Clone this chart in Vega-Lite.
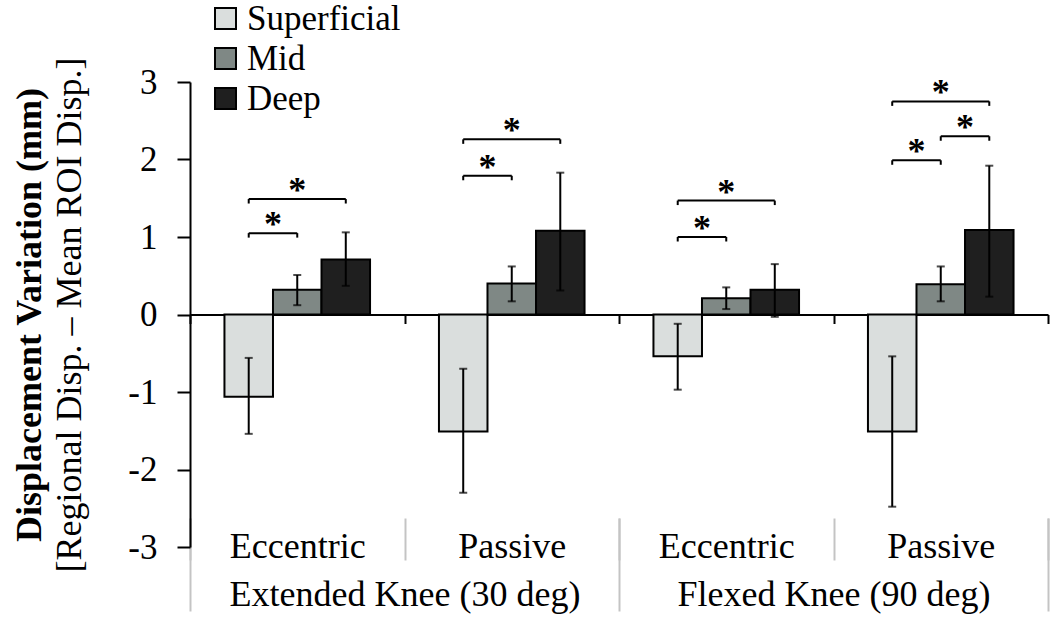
{
  "$schema": "https://vega.github.io/schema/vega-lite/v6.json",
  "width": 858,
  "height": 465,
  "autosize": "none",
  "padding": {"left": 190, "top": 82, "right": 2, "bottom": 74},
  "background": "white",
  "config": {
    "view": {"stroke": null},
    "font": "Liberation Serif",
    "axis": {"labelFont": "Liberation Serif", "titleFont": "Liberation Serif", "labelColor": "black", "titleColor": "black", "grid": false, "labelFontSize": 36, "titleFontSize": 36, "labelLimit": 600, "labelOverlap": false},
    "legend": {"labelFont": "Liberation Serif", "labelColor": "black"}
  },
  "datasets": {
    "bars": [
      {"knee": "Extended Knee (30 deg)", "cond": "Extended Knee (30 deg)|Eccentric", "layer": "Superficial", "value": -1.06, "lo": -1.54, "hi": -0.56},
      {"knee": "Extended Knee (30 deg)", "cond": "Extended Knee (30 deg)|Eccentric", "layer": "Mid", "value": 0.32, "lo": 0.12, "hi": 0.51},
      {"knee": "Extended Knee (30 deg)", "cond": "Extended Knee (30 deg)|Eccentric", "layer": "Deep", "value": 0.71, "lo": 0.37, "hi": 1.06},
      {"knee": "Extended Knee (30 deg)", "cond": "Extended Knee (30 deg)|Passive", "layer": "Superficial", "value": -1.51, "lo": -2.3, "hi": -0.7},
      {"knee": "Extended Knee (30 deg)", "cond": "Extended Knee (30 deg)|Passive", "layer": "Mid", "value": 0.4, "lo": 0.17, "hi": 0.62},
      {"knee": "Extended Knee (30 deg)", "cond": "Extended Knee (30 deg)|Passive", "layer": "Deep", "value": 1.08, "lo": 0.31, "hi": 1.83},
      {"knee": "Flexed Knee (90 deg)", "cond": "Flexed Knee (90 deg)|Eccentric", "layer": "Superficial", "value": -0.54, "lo": -0.97, "hi": -0.12},
      {"knee": "Flexed Knee (90 deg)", "cond": "Flexed Knee (90 deg)|Eccentric", "layer": "Mid", "value": 0.21, "lo": 0.07, "hi": 0.35},
      {"knee": "Flexed Knee (90 deg)", "cond": "Flexed Knee (90 deg)|Eccentric", "layer": "Deep", "value": 0.32, "lo": -0.03, "hi": 0.65},
      {"knee": "Flexed Knee (90 deg)", "cond": "Flexed Knee (90 deg)|Passive", "layer": "Superficial", "value": -1.51, "lo": -2.48, "hi": -0.54},
      {"knee": "Flexed Knee (90 deg)", "cond": "Flexed Knee (90 deg)|Passive", "layer": "Mid", "value": 0.39, "lo": 0.17, "hi": 0.62},
      {"knee": "Flexed Knee (90 deg)", "cond": "Flexed Knee (90 deg)|Passive", "layer": "Deep", "value": 1.09, "lo": 0.23, "hi": 1.92}
    ],
    "brackets": [
      {"id": "b1", "cond": "Extended Knee (30 deg)|Eccentric", "from": "Superficial", "to": "Mid", "span": 1, "y": 1.05},
      {"id": "b2", "cond": "Extended Knee (30 deg)|Eccentric", "from": "Superficial", "to": "Deep", "span": 2, "y": 1.49},
      {"id": "b3", "cond": "Extended Knee (30 deg)|Passive", "from": "Superficial", "to": "Mid", "span": 1, "y": 1.79},
      {"id": "b4", "cond": "Extended Knee (30 deg)|Passive", "from": "Superficial", "to": "Deep", "span": 2, "y": 2.26},
      {"id": "b5", "cond": "Flexed Knee (90 deg)|Eccentric", "from": "Superficial", "to": "Mid", "span": 1, "y": 1.0},
      {"id": "b6", "cond": "Flexed Knee (90 deg)|Eccentric", "from": "Superficial", "to": "Deep", "span": 2, "y": 1.47},
      {"id": "b7", "cond": "Flexed Knee (90 deg)|Passive", "from": "Superficial", "to": "Mid", "span": 1, "y": 1.99},
      {"id": "b8", "cond": "Flexed Knee (90 deg)|Passive", "from": "Mid", "to": "Deep", "span": 1, "y": 2.3},
      {"id": "b9", "cond": "Flexed Knee (90 deg)|Passive", "from": "Superficial", "to": "Deep", "span": 2, "y": 2.75}
    ]
  },
  "resolve": {"scale": {"x": "independent"}, "axis": {"x": "independent", "y": "independent"}},
  "layer": [
    {
      "resolve": {"axis": {"x": "independent", "y": "independent"}},
      "layer": [
        {
          "data": {"name": "bars"},
          "mark": {"type": "bar", "stroke": "black", "strokeWidth": 2},
          "encoding": {
            "x": {"field": "cond", "type": "nominal", "scale": {"domain": ["Extended Knee (30 deg)|Eccentric", "Extended Knee (30 deg)|Passive", "Flexed Knee (90 deg)|Eccentric", "Flexed Knee (90 deg)|Passive"], "paddingInner": 0, "paddingOuter": 0},
              "axis": {"orient": "bottom", "offset": -232.5, "title": null, "labels": false, "domain": true, "domainColor": "black", "domainWidth": 2, "ticks": true, "tickColor": "black", "tickWidth": 2, "tickSize": 9, "tickBand": "extent"}},
            "xOffset": {"field": "layer", "type": "nominal", "scale": {"domain": ["Superficial", "Mid", "Deep"], "paddingInner": 0, "paddingOuter": 0.71}},
            "y": {"field": "value", "type": "quantitative", "scale": {"domain": [-3, 3], "nice": false, "zero": false},
              "axis": {"orient": "left", "values": [-3, -2, -1, 0, 1, 2, 3], "labelExpr": "datum.value + ''", "labelFontSize": 35, "labelFont": "Liberation Serif", "title": "[Regional Disp. – Mean ROI Disp.]", "titleFontWeight": "normal", "titleX": -110, "titleY": 232.5, "titleBaseline": "alphabetic", "titleAngle": -90, "titleAlign": "center", "domainColor": "black", "domainWidth": 2, "tickColor": "black", "tickWidth": 2, "tickSize": 13, "labelPadding": 20}},
            "fill": {"field": "layer", "type": "nominal", "scale": {"domain": ["Superficial", "Mid", "Deep"], "range": ["#dadedd", "#7f8885", "#1f1f1f"]},
              "legend": {"orient": "none", "legendX": 18, "legendY": -81, "title": null, "symbolType": "square", "symbolSize": 441, "symbolStrokeColor": "black", "symbolStrokeWidth": 2, "symbolOpacity": 1, "labelFont": "Liberation Serif", "labelFontSize": 35, "labelOffset": 4, "rowPadding": 4, "padding": 0}}
          }
        },
        {
          "data": {"name": "bars"},
          "mark": {"type": "rule", "color": "black", "strokeWidth": 2},
          "encoding": {
            "x": {"field": "cond", "type": "nominal",
              "axis": {"orient": "bottom", "offset": -29, "title": null, "domain": false, "ticks": true, "tickColor": "#c4c4c4", "tickWidth": 2, "tickSize": 42, "tickBand": "extent", "labelExpr": "split(datum.label, '|')[1]", "labelFont": "Liberation Serif", "labelBaseline": "alphabetic", "labelPadding": -3, "labelAngle": 0}},
            "xOffset": {"field": "layer", "type": "nominal"},
            "y": {"field": "lo", "type": "quantitative",
              "axis": {"orient": "left", "title": "Displacement Variation (mm)", "titleFontWeight": "bold", "titleX": -150, "titleY": 232.5, "titleBaseline": "alphabetic", "titleAngle": -90, "titleAlign": "center", "domain": false, "ticks": false, "labels": false}},
            "y2": {"field": "hi"}
          }
        },
        {
          "data": {"name": "bars"},
          "mark": {"type": "tick", "color": "black", "thickness": 2, "size": 8},
          "encoding": {
            "x": {"field": "cond", "type": "nominal", "axis": null},
            "xOffset": {"field": "layer", "type": "nominal"},
            "y": {"field": "hi", "type": "quantitative", "axis": null}
          }
        },
        {
          "data": {"name": "bars"},
          "mark": {"type": "tick", "color": "black", "thickness": 2, "size": 8},
          "encoding": {
            "x": {"field": "cond", "type": "nominal", "axis": null},
            "xOffset": {"field": "layer", "type": "nominal"},
            "y": {"field": "lo", "type": "quantitative", "axis": null}
          }
        },
        {
          "data": {"name": "brackets"},
          "transform": [{"fold": ["from", "to"], "as": ["end", "layer"]}],
          "mark": {"type": "line", "color": "black", "strokeWidth": 2},
          "encoding": {
            "x": {"field": "cond", "type": "nominal", "axis": null},
            "xOffset": {"field": "layer", "type": "nominal"},
            "y": {"field": "y", "type": "quantitative", "axis": null},
            "detail": {"field": "id"}
          }
        },
        {
          "data": {"name": "brackets"},
          "transform": [{"fold": ["from", "to"], "as": ["end", "layer"]}],
          "mark": {"type": "point", "shape": "M0,0L0,1", "size": 81, "filled": false, "stroke": "black", "strokeWidth": 2, "opacity": 1},
          "encoding": {
            "x": {"field": "cond", "type": "nominal", "axis": null},
            "xOffset": {"field": "layer", "type": "nominal"},
            "y": {"field": "y", "type": "quantitative", "axis": null}
          }
        },
        {
          "data": {"name": "brackets"},
          "transform": [{"filter": "datum.span == 1"}],
          "mark": {"type": "text", "text": "*", "font": "Liberation Serif", "fontSize": 36, "fontWeight": "bold", "baseline": "alphabetic", "align": "center", "dx": 24.25, "dy": 3, "color": "black"},
          "encoding": {
            "x": {"field": "cond", "type": "nominal", "axis": null},
            "xOffset": {"field": "from", "type": "nominal"},
            "y": {"field": "y", "type": "quantitative", "axis": null}
          }
        },
        {
          "data": {"name": "brackets"},
          "transform": [{"filter": "datum.span == 2"}],
          "mark": {"type": "text", "text": "*", "font": "Liberation Serif", "fontSize": 36, "fontWeight": "bold", "baseline": "alphabetic", "align": "center", "dx": 48.5, "dy": 3, "color": "black"},
          "encoding": {
            "x": {"field": "cond", "type": "nominal", "axis": null},
            "xOffset": {"field": "from", "type": "nominal"},
            "y": {"field": "y", "type": "quantitative", "axis": null}
          }
        }
      ]
    },
    {
      "data": {"name": "bars"},
      "mark": {"type": "rule", "strokeOpacity": 0},
      "encoding": {
        "x": {"field": "knee", "type": "nominal", "scale": {"paddingInner": 0, "paddingOuter": 0},
          "axis": {"orient": "bottom", "offset": -29, "title": null, "domain": false, "ticks": true, "tickColor": "#c4c4c4", "tickWidth": 2, "tickSize": 93, "tickBand": "extent", "labelFont": "Liberation Serif", "labelBaseline": "alphabetic", "labelPadding": -6, "labelAngle": 0}}
      }
    }
  ]
}
